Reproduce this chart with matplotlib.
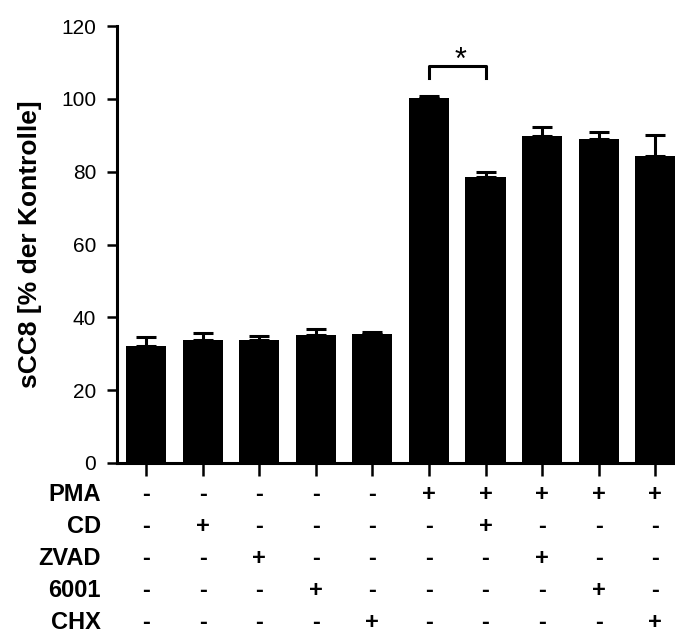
import numpy as np
import matplotlib
matplotlib.use("Agg")
import matplotlib.pyplot as plt

# data
means = [32.2, 33.9, 33.9, 35.2, 35.5, 100.2, 78.4, 89.7, 88.9, 84.2]
errs = [2.3, 1.8, 0.9, 1.7, 0.6, 0.6, 1.4, 2.5, 1.9, 6.0]
row_names = ['PMA', 'CD', 'ZVAD', '6001', 'CHX']
pma = ['-', '-', '-', '-', '-', '+', '+', '+', '+', '+']
cd = ['-', '+', '-', '-', '-', '-', '+', '-', '-', '-']
zvad = ['-', '-', '+', '-', '-', '-', '-', '+', '-', '-']
i6001 = ['-', '-', '-', '+', '-', '-', '-', '-', '+', '-']
chx = ['-', '-', '-', '-', '+', '-', '-', '-', '-', '+']
rows = [pma, cd, zvad, i6001, chx]

plt.rcParams['font.family'] = ['Liberation Sans', 'DejaVu Sans']

fig = plt.figure(figsize=(6.75, 6.34), dpi=100)
ax = fig.add_axes([117 / 675, 1 - 463 / 634, 1 - 117 / 675, (463 - 26) / 634])

x = np.arange(len(means))
ax.bar(x, means, width=0.71, color='black', zorder=2)
ax.errorbar(x, means, yerr=[np.zeros(len(errs)), errs], fmt='none',
            ecolor='black', elinewidth=2.2, capsize=7.5, capthick=2.2, zorder=1)

ax.set_xlim(-0.515, 9.35)
ax.set_ylim(0, 120)
ax.set_yticks(range(0, 121, 20))
ax.set_xticks(x)
ax.set_xticklabels([])
ax.tick_params(axis='both', width=1.8, length=7, labelsize=15, pad=8)
ax.tick_params(axis='x', length=9)

for s in ['top', 'right']:
    ax.spines[s].set_visible(False)
for s in ['left', 'bottom']:
    ax.spines[s].set_linewidth(2.2)

ax.set_ylabel('sCC8 [% der Kontrolle]', fontsize=19, fontweight='bold', labelpad=14)

# significance bracket between bar 6 and bar 7
y_top = 109
ax.plot([5, 5, 6, 6], [105.8, y_top, y_top, 105.8], color='black', lw=2.2,
        clip_on=False)
ax.text(5.55, 106.3, '*', ha='center', va='bottom', fontsize=22)

# treatment table below the axis
trans = ax.get_xaxis_transform()
for r, (name, signs) in enumerate(zip(row_names, rows)):
    yy = -0.071 - r * 0.0734
    ax.text(-0.8, yy, name, transform=trans, ha='right', va='center',
            fontsize=17, fontweight='bold')
    for i, s in enumerate(signs):
        ax.text(i, yy, s, transform=trans, ha='center', va='center',
                fontsize=17, fontweight='bold')

fig.savefig('out.png', dpi=100, facecolor='white')
